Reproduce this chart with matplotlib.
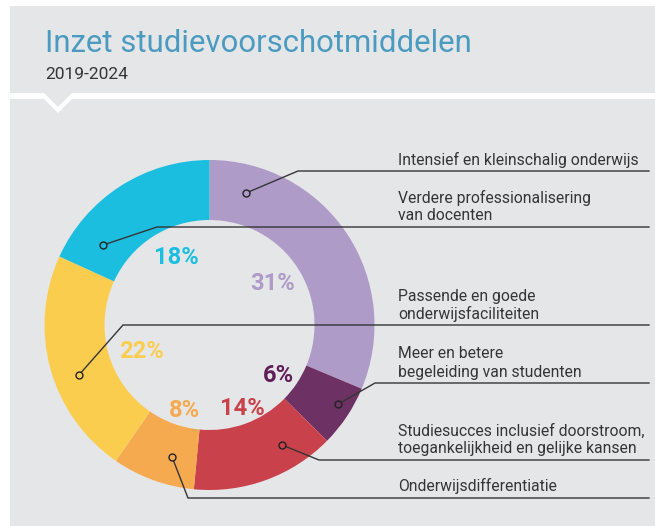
import matplotlib
matplotlib.use("Agg")
import matplotlib.pyplot as plt
from matplotlib.patches import Rectangle, Polygon
import numpy as np

# ---- data ----
categories = [
    "Intensief en kleinschalig onderwijs",
    "Meer en betere\nbegeleiding van studenten",
    "Studiesucces inclusief doorstroom,\ntoegankelijkheid en gelijke kansen",
    "Onderwijsdifferentiatie",
    "Passende en goede\nonderwijsfaciliteiten",
    "Verdere professionalisering\nvan docenten",
]
shares = [31, 6, 14, 8, 22, 18]
colors = ["#ae9bc8", "#6d3163", "#c8414b", "#f6aa50", "#fbcd4f", "#1cbee0"]
label_colors = ["#ae9bc8", "#5f1d58", "#c8414b", "#f6aa50", "#fbcd4f", "#1cbee0"]

title = "Inzet studievoorschotmiddelen"
subtitle = "2019-2024"

# ---- layout (pixel units, y downwards) ----
W, H = 655, 526
CX, CY = 209.5, 325.0
R_OUT, R_IN = 165.0, 105.0
BG = "#e5e6e8"
INK = "#353535"

# percent label centres, per slice
pct_pos = [(273, 281), (278, 373), (242, 406), (184, 408), (142, 349), (176, 255)]
# leader: dot angle (deg, visual), dot radius, elbow x, leader y
leaders = [(74.5, 137, 298, 171), (-31.6, 151, 375, 383), (-58.9, 140, 319, 460),
           (-105.9, 137, 188, 498), (-159.0, 140, 123, 325), (143.0, 133, 157, 227)]
LINE_END = 649
LABEL_X = 398

plt.rcParams["font.family"] = ["Roboto", "DejaVu Sans"]

fig = plt.figure(figsize=(W / 100, H / 100), dpi=100, facecolor="white")
ax = fig.add_axes([0, 0, 1, 1])

# donut: axis y is inverted, so counter-clockwise in data is clockwise on screen
wedges, _ = ax.pie(shares, colors=colors, startangle=-90, counterclock=True,
                   radius=R_OUT, center=(CX, CY),
                   wedgeprops=dict(width=R_OUT - R_IN, linewidth=0))
for w in wedges:
    w.set_zorder(2)
ax.set_xlim(0, W)
ax.set_ylim(H, 0)
ax.set_aspect("equal")
ax.axis("off")

# background panel with white divider and pointer
ax.add_patch(Rectangle((10, 6), W - 10, H - 6, facecolor=BG, edgecolor="none", zorder=0))
ax.add_patch(Polygon([(10, 93), (W, 93), (W, 99), (72, 99), (58, 113), (44, 99), (10, 99)],
                     closed=True, facecolor="white", edgecolor="none", zorder=0.5))
ax.add_patch(Polygon([(44, 93), (72, 93), (58, 107)], closed=True,
                     facecolor=BG, edgecolor="none", zorder=0.6))

# leader lines with small ring markers
for (ang, r, ex, ly), col in zip(leaders, colors):
    a = np.deg2rad(ang)
    dx, dy = CX + r * np.cos(a), CY - r * np.sin(a)
    ax.plot([dx, ex, LINE_END], [dy, ly, ly], color=INK, lw=1.0, zorder=4,
            solid_joinstyle="miter")
    ax.plot([dx], [dy], marker="o", ms=5, mfc=col, mec="#222222", mew=1.0, zorder=5)

texts_title = ax.text(45, 52, title, color="#4b9bc0", fontsize=22, va="baseline", ha="left")
texts_sub = ax.text(45, 79, subtitle, color=INK, fontsize=12, va="baseline", ha="left")

# category labels above their leader lines
legend_texts = []
for cat, (ang, r, ex, ly) in zip(categories, leaders):
    lines = cat.split("\n")
    for k, line in enumerate(reversed(lines)):
        t = ax.text(LABEL_X, ly - 6.5 - k * 18, line, color=INK, fontsize=10,
                    va="baseline", ha="left")
        legend_texts.append(t)

pct_texts = []
for v, (px, py), c in zip(shares, pct_pos, label_colors):
    t = ax.text(px, py, f"{v}%", color=c, fontsize=18, fontweight="bold",
                ha="center", va="center_baseline", zorder=6)
    pct_texts.append(t)

# size text to the intended widths
fig.canvas.draw()
rend = fig.canvas.get_renderer()

def fit(t, target):
    w = t.get_window_extent(rend).width
    return t.get_fontsize() * target / w

fs_title = fit(texts_title, 427)
texts_title.set_fontsize(fs_title)
texts_sub.set_fontsize(fit(texts_sub, 83))
fs_leg = fit(legend_texts[0], 242)
for t in legend_texts:
    t.set_fontsize(fs_leg)
fs_pct = fit(pct_texts[4], 45)
for t in pct_texts:
    t.set_fontsize(fs_pct)

fig.savefig("out.png", dpi=100, facecolor="white")
